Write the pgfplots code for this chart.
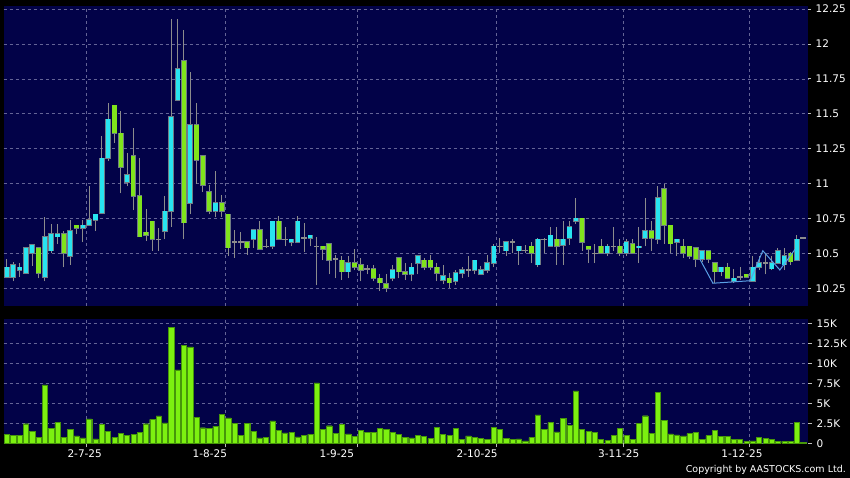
\documentclass[border=0pt]{standalone}
\usepackage{fontspec}
\setmainfont{DejaVu Sans}
\usepackage{pgfplots}
\usepackage{pgfplotstable}
\pgfplotsset{compat=1.18}

\definecolor{plotbg}{RGB}{2,2,72}
\definecolor{gridc}{RGB}{100,100,150}
\definecolor{upc}{RGB}{40,228,240}
\definecolor{dnc}{RGB}{128,228,28}
\definecolor{edge}{RGB}{112,124,132}
\definecolor{wick}{RGB}{140,140,140}
\definecolor{volc}{RGB}{124,240,16}
\definecolor{vole}{RGB}{70,150,10}
\definecolor{trend}{RGB}{90,160,230}
\definecolor{tickc}{RGB}{190,190,190}

% k = trading day, o h l c = price, v = volume (thousands)
\pgfplotstableread{
k o h l c v
1 10.33 10.46 10.32 10.40 1.15
2 10.33 10.44 10.30 10.42 0.99
3 10.38 10.43 10.33 10.40 1.03
4 10.36 10.54 10.36 10.54 2.47
5 10.50 10.56 10.41 10.56 1.52
6 10.54 10.54 10.32 10.36 0.78
7 10.33 10.76 10.30 10.62 7.32
8 10.52 10.71 10.50 10.64 1.89
9 10.62 10.71 10.57 10.64 2.67
10 10.64 10.66 10.40 10.50 0.78
11 10.48 10.74 10.42 10.66 1.77
12 10.70 10.70 10.64 10.68 0.95
13 10.68 10.74 10.58 10.70 0.70
14 10.70 10.98 10.70 10.74 3.08
15 10.74 10.78 10.66 10.78 0.58
16 10.79 11.34 10.79 11.18 2.38
17 11.18 11.58 11.16 11.46 1.56
18 11.56 11.56 11.29 11.36 0.74
19 11.36 11.52 10.93 11.12 1.27
20 11.01 11.22 10.98 11.06 1.03
21 11.20 11.40 10.81 10.91 1.11
22 10.91 11.18 10.62 10.62 1.36
23 10.65 10.82 10.59 10.63 2.47
24 10.73 10.73 10.52 10.60 3.00
25 10.60 10.68 10.52 10.60 3.45
26 10.66 10.91 10.60 10.80 2.59
27 10.80 12.18 10.69 11.48 14.55
28 11.60 12.18 11.60 11.82 9.21
29 11.88 12.10 10.60 10.72 12.25
30 10.86 11.80 10.78 11.42 12.08
31 11.42 11.58 11.00 11.17 3.29
32 11.20 11.20 10.94 10.99 1.97
33 10.94 10.99 10.78 10.80 1.85
34 10.80 11.09 10.76 10.86 2.18
35 10.86 10.92 10.76 10.80 3.66
36 10.78 10.78 10.48 10.54 3.21
37 10.58 10.67 10.47 10.58 2.55
38 10.58 10.65 10.53 10.58 1.03
39 10.58 10.58 10.49 10.54 2.55
40 10.60 10.67 10.54 10.67 1.52
41 10.67 10.73 10.53 10.53 0.70
42 10.55 10.60 10.54 10.55 0.78
43 10.55 10.73 10.53 10.73 2.84
44 10.73 10.77 10.60 10.60 1.64
45 10.60 10.69 10.55 10.60 1.32
46 10.58 10.60 10.55 10.60 1.40
47 10.58 10.77 10.58 10.73 0.82
48 10.61 10.72 10.51 10.61 0.99
49 10.61 10.63 10.55 10.63 1.15
50 10.55 10.62 10.27 10.55 7.56
51 10.55 10.55 10.45 10.53 1.81
52 10.57 10.57 10.35 10.45 2.22
53 10.46 10.49 10.32 10.46 1.23
54 10.45 10.48 10.31 10.37 2.38
55 10.37 10.48 10.32 10.43 1.19
56 10.43 10.53 10.38 10.40 0.90
57 10.42 10.47 10.30 10.38 1.64
58 10.39 10.42 10.35 10.39 1.40
59 10.39 10.42 10.30 10.32 1.36
60 10.32 10.35 10.23 10.29 1.89
61 10.28 10.35 10.22 10.25 1.77
62 10.32 10.42 10.30 10.38 1.36
63 10.47 10.47 10.32 10.37 1.11
64 10.37 10.43 10.31 10.35 0.78
65 10.35 10.43 10.30 10.40 0.70
66 10.43 10.48 10.35 10.48 1.03
67 10.45 10.47 10.38 10.40 0.90
68 10.45 10.49 10.38 10.40 0.62
69 10.40 10.43 10.30 10.36 2.06
70 10.31 10.42 10.28 10.34 1.15
71 10.32 10.36 10.25 10.29 0.99
72 10.30 10.38 10.27 10.36 1.89
73 10.36 10.40 10.32 10.38 0.53
74 10.38 10.48 10.33 10.38 0.95
75 10.38 10.45 10.35 10.45 0.74
76 10.35 10.41 10.35 10.38 0.66
77 10.38 10.49 10.36 10.43 0.49
78 10.43 10.57 10.40 10.55 2.01
79 10.55 10.61 10.50 10.55 1.77
80 10.52 10.58 10.48 10.58 0.62
81 10.58 10.60 10.50 10.58 0.53
82 10.52 10.55 10.42 10.55 0.58
83 10.52 10.56 10.50 10.52 0.33
84 10.55 10.58 10.43 10.50 0.74
85 10.42 10.61 10.40 10.60 3.58
86 10.60 10.61 10.50 10.60 1.73
87 10.55 10.69 10.55 10.63 2.60
88 10.60 10.69 10.42 10.55 1.45
89 10.56 10.73 10.42 10.60 3.18
90 10.61 10.73 10.56 10.69 2.27
91 10.73 10.90 10.71 10.75 6.57
92 10.75 10.75 10.52 10.58 1.73
93 10.55 10.55 10.43 10.53 1.49
94 10.50 10.57 10.43 10.50 1.36
95 10.55 10.60 10.50 10.50 0.50
96 10.50 10.57 10.48 10.55 0.41
97 10.55 10.69 10.52 10.55 0.99
98 10.55 10.60 10.48 10.50 1.90
99 10.50 10.60 10.48 10.58 0.99
100 10.57 10.60 10.50 10.50 0.50
101 10.54 10.69 10.43 10.55 2.48
102 10.61 10.90 10.55 10.66 3.47
103 10.66 10.73 10.52 10.61 1.24
104 10.60 10.98 10.57 10.90 6.40
105 10.96 11.00 10.57 10.70 2.89
106 10.70 10.70 10.50 10.57 1.20
107 10.58 10.60 10.48 10.60 1.07
108 10.55 10.60 10.47 10.50 0.95
109 10.55 10.55 10.46 10.48 1.24
110 10.54 10.54 10.40 10.46 1.40
111 10.46 10.52 10.44 10.52 0.54
112 10.52 10.52 10.43 10.46 0.99
113 10.43 10.43 10.29 10.37 1.61
114 10.37 10.40 10.34 10.40 0.91
115 10.40 10.43 10.32 10.32 0.91
116 10.30 10.39 10.29 10.32 0.50
117 10.33 10.40 10.31 10.33 0.50
118 10.35 10.35 10.33 10.33 0.25
119 10.30 10.48 10.30 10.40 0.33
120 10.40 10.48 10.38 10.43 0.74
121 10.43 10.50 10.35 10.43 0.62
122 10.39 10.48 10.38 10.43 0.50
123 10.43 10.54 10.43 10.52 0.25
124 10.42 10.54 10.38 10.48 0.25
125 10.50 10.51 10.42 10.44 0.29
126 10.45 10.63 10.45 10.60 2.60
127 10.61 10.62 10.60 10.61 0.17
}\ohlc

\pgfplotsset{
  chart/.style={
    scale only axis,
    width=804.5pt,
    anchor=south west,
    xmin=0.45, xmax=127.75,
    axis background/.style={fill=plotbg},
    axis line style={draw=none},
    xtick={13.6,35.6,56.5,78.5,98.5,118.5},
    xticklabels={},
    xmajorgrids, ymajorgrids,
    major grid style={gridc, dash pattern=on 3pt off 3pt, line width=0.6pt},
    ytick pos=right, yticklabel pos=right,
    tick align=outside,
    major tick length=3pt,
    tick style={tickc, line width=0.8pt},
    yticklabel style={text=white, font=\fontsize{10.5}{12}\selectfont,
      anchor=west, inner sep=0pt, xshift=4.5pt},
  },
  bars/.style={draw=none, mark=none,
    error bars/.cd, y dir=plus, y explicit, error mark=none},
}

\begin{document}
\begin{tikzpicture}
\fill[black] (0pt,0pt) rectangle (850pt,478pt);
\useasboundingbox (0pt,0pt) rectangle (850pt,478pt);

% price panel
\begin{axis}[chart, at={(3.5pt,172pt)}, height=300pt,
  ymin=10.123, ymax=12.272,
  ytick={10.25,10.5,10.75,11,11.25,11.5,11.75,12,12.25},
  yticklabels={10.25,10.5,10.75,11,11.25,11.5,11.75,12,12.25},
  every major x tick/.append style={draw=none}]
  % wicks
  \addplot[bars, error bar style={draw=wick, line width=1pt}]
    table[x=k, y=l, y error plus expr=\thisrow{h}-\thisrow{l}] {\ohlc};
  % body outlines
  \addplot[restrict expr to domain={abs(\thisrow{c}-\thisrow{o})}{0.005:5},
    bars, error bar style={draw=edge, line width=5.6pt}]
    table[x=k, y expr={min(\thisrow{o},\thisrow{c})-0.005},
      y error plus expr={abs(\thisrow{c}-\thisrow{o})+0.01}] {\ohlc};
  % rising bodies
  \addplot[restrict expr to domain={\thisrow{c}-\thisrow{o}}{0.005:5},
    bars, error bar style={draw=upc, line width=4.2pt}]
    table[x=k, y=o, y error plus expr=\thisrow{c}-\thisrow{o}] {\ohlc};
  % falling bodies
  \addplot[restrict expr to domain={\thisrow{o}-\thisrow{c}}{0.005:5},
    bars, error bar style={draw=dnc, line width=4.2pt}]
    table[x=k, y=c, y error plus expr=\thisrow{o}-\thisrow{c}] {\ohlc};
  % doji
  \addplot[restrict expr to domain={abs(\thisrow{c}-\thisrow{o})}{0:0.004},
    bars, error bar style={draw=wick, line width=5.6pt}]
    table[x=k, y expr=\thisrow{o}-0.006, y error plus expr=0.012] {\ohlc};
  % drawn trend line
  \addplot[trend, line width=1pt, mark=none] coordinates {
    (110.65,10.458) (112.7,10.286) (118.6,10.304)
    (120.6,10.519) (123.3,10.381) (125.7,10.529)};
\end{axis}

% volume panel
\begin{axis}[chart, at={(3.5pt,34.5pt)}, height=124.5pt,
  ymin=0, ymax=15.55,
  ytick={0,2.5,5,7.5,10,12.5,15},
  yticklabels={0,2.5K,5K,7.5K,10K,12.5K,15K},
  xtick pos=bottom, major tick length=4pt,
  extra x ticks={13.3,33.1,53.2,75.4,97.8,117.3},
  extra x tick labels={2-7-25,1-8-25,1-9-25,2-10-25,3-11-25,1-12-25},
  extra x tick style={grid=none, major tick length=0pt,
    xticklabel style={text=white, font=\fontsize{10.5}{12}\selectfont,
      yshift=-3pt}}]
  \addplot[ybar, bar width=5.2pt, fill=volc, draw=vole, line width=0.4pt]
    table[x=k, y=v] {\ohlc};
\end{axis}

\node[anchor=east, text=white, font=\fontsize{9.5}{10}\selectfont, inner sep=0pt]
  at (846pt,8pt) {Copyright by AASTOCKS.com Ltd.};
\end{tikzpicture}
\end{document}
